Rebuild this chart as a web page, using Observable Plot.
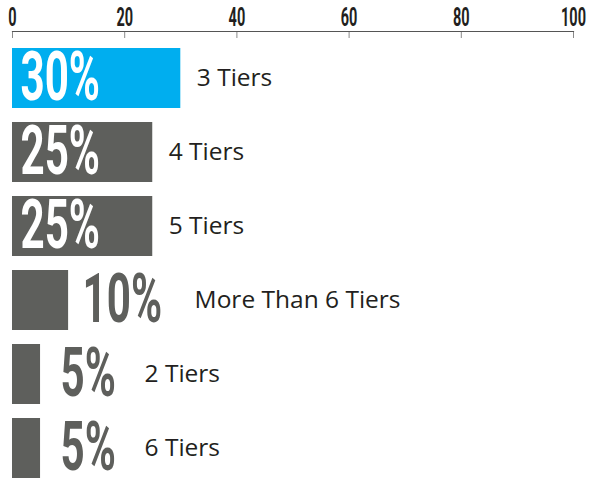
<!DOCTYPE html>
<html>
<head>
<meta charset="utf-8">
<script src="https://cdn.jsdelivr.net/npm/d3@7"></script>
<script src="https://cdn.jsdelivr.net/npm/@observablehq/plot@0.6"></script>
<style>
  html, body { margin: 0; padding: 0; background: #ffffff; }
</style>
</head>
<body>
<div id="chart"></div>
<script>
// Data
const tiers = ["3 Tiers", "4 Tiers", "5 Tiers", "More Than 6 Tiers", "2 Tiers", "6 Tiers"];
const shares = [30, 25, 25, 10, 5, 5];
const highlight = ["3 Tiers"];
const xTicks = [0, 20, 40, 60, 80, 100];

const data = tiers.map((t, i) => ({tier: t, value: shares[i], label: shares[i] + "%"}));
const inside = d => d.value >= 20;
const pctWidth = d => 22 * (d.label.length - 1) + 33;

const blue = "#00aeef";
const gray = "#5e5f5c";
const condensedFont = "Roboto, 'DejaVu Sans', sans-serif";

const svg = Plot.plot({
  width: 590,
  height: 481,
  marginTop: 37,
  marginBottom: 2,
  marginLeft: 12,
  marginRight: 17,
  style: {background: "#ffffff"},
  x: {domain: [0, 100], axis: null, label: null},
  y: {domain: tiers, range: [47, 479], paddingInner: 0.194, paddingOuter: 0, axis: null},
  marks: [
    Plot.frame({anchor: "top", dy: -6, stroke: "#555555", strokeWidth: 1.2}),
    Plot.axisX(xTicks, {
      anchor: "top",
      label: null,
      tickSize: 6,
      tickPadding: 6,
      stroke: "#8a8a8a",
      fill: "#231f20",
      fontSize: 25,
      fontWeight: 700,
      fontFamily: condensedFont,
      tickFormat: d => String(d)
    }),
    Plot.barX(data, {
      x: "value",
      y: "tier",
      fill: d => highlight.includes(d.tier) ? blue : gray
    }),
    Plot.text(data, {
      x: d => inside(d) ? 0 : d.value,
      y: "tier",
      text: "label",
      textAnchor: "start",
      dx: 8,
      dy: 0,
      fill: d => inside(d) ? "#ffffff" : gray,
      fontSize: 68,
      fontWeight: 700,
      fontFamily: condensedFont
    }),
    Plot.text(data, {
      x: "value",
      y: "tier",
      text: "tier",
      textAnchor: "start",
      dx: 0,
      dy: 0,
      fill: "#231f20",
      fontSize: 24.5,
      fontFamily: "'Open Sans', 'Noto Sans', sans-serif"
    })
  ]
});

// horizontal-only condensing around the text's own anchor
function squeeze(el, s, shift) {
  const t = el.getAttribute("transform") || "";
  const xa = parseFloat(el.getAttribute("x"));
  const x = isFinite(xa) ? xa : 0;
  el.setAttribute("transform",
    `${t} translate(${x + (shift || 0)},0) scale(${s},1) translate(${-x},0)`.trim());
}

const textGroups = d3.select(svg).selectAll('g[aria-label="text"]').nodes();
const pctGroup = textGroups[0];
const tierGroup = textGroups[1];

// place tier labels relative to their bar end (inside vs outside percentage)
d3.select(tierGroup).selectAll("text").each(function(_, i) {
  const d = data[i];
  const off = inside(d) ? 16 : 14 + pctWidth(d) + 35;
  const t = this.getAttribute("transform") || "";
  this.setAttribute("transform", `${t} translate(${off},0)`.trim());
});
// condense the percentage figures and the axis numbers
d3.select(pctGroup).selectAll("text").each(function(_, i) {
  const d = data[i];
  const extra = inside(d) ? 0 : (d.label.length === 2 ? 12 : 6);
  squeeze(this, 0.62, extra);
});
d3.select(svg).selectAll('g[aria-label="x-axis tick label"] text').each(function() {
  squeeze(this, 0.58, 0);
});

document.getElementById("chart").appendChild(svg);
</script>
</body>
</html>
